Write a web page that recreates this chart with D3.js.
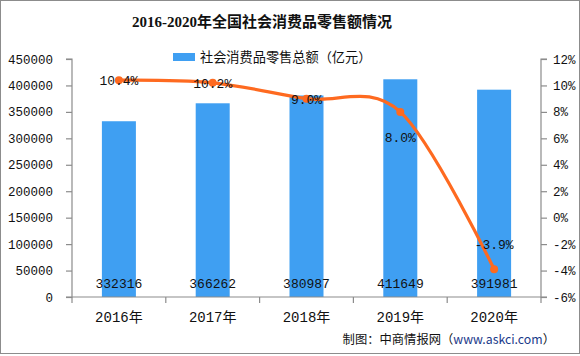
<!DOCTYPE html>
<html><head><meta charset="utf-8">
<script src="https://cdn.jsdelivr.net/npm/d3@7"></script>
<style>body{margin:0;background:#fff}svg{display:block}</style>
</head><body>
<svg id="c" width="580" height="356"></svg>
<script>
const categories = ["2016年","2017年","2018年","2019年","2020年"];
const sales = [332316, 366262, 380987, 411649, 391981];
const growth = [10.4, 10.2, 9.0, 8.0, -3.9];
const leftTicks = [0,50000,100000,150000,200000,250000,300000,350000,400000,450000];
const rightTicks = [-6,-4,-2,0,2,4,6,8,10,12];
const labelOffsets = [0, 0, 0, 25, -25];

const svg = d3.select("#c");
const W = 580, H = 356;
const m = {l:72, r:39, t:59, b:59};
const x0 = m.l, x1 = W - m.r, y0 = H - m.b, y1 = m.t;
const numFont = "'Liberation Mono','Noto Sans CJK SC',monospace";
const cjkFont = "'Noto Sans CJK SC','Liberation Mono',sans-serif";

svg.append("rect").attr("x",0.5).attr("y",0.5).attr("width",W-1).attr("height",H-3)
  .attr("fill","#fff").attr("stroke","#8c8c8c");

const x = d3.scaleBand().domain(categories).range([x0,x1]).paddingInner(0).paddingOuter(0);
const yL = d3.scaleLinear().domain([0,450000]).range([y0,y1]);
const yR = d3.scaleLinear().domain([-6,12]).range([y0,y1]);

// title
svg.append("text").attr("x",262).attr("y",27).attr("text-anchor","middle")
  .attr("font-family","'Liberation Serif','Noto Sans CJK SC',serif").attr("font-weight","bold")
  .attr("font-size",15).attr("fill","#111").text("2016-2020年全国社会消费品零售额情况");

// legend
svg.append("rect").attr("x",173).attr("y",53).attr("width",22).attr("height",8).attr("fill","#3f9ff2");
svg.append("text").attr("x",200).attr("y",62).attr("font-family",cjkFont).attr("font-size",13.2)
  .attr("fill","#111").text("社会消费品零售总额（亿元）");

// bars
const bw = 34;
svg.append("g").selectAll("rect").data(sales).join("rect")
  .attr("x",(d,i)=>x(categories[i])+x.bandwidth()/2-bw/2)
  .attr("y",d=>yL(d)).attr("width",bw).attr("height",d=>y0-yL(d)).attr("fill","#3f9ff2");

// axes
const axisColor = "#8c8c8c";
const gl = svg.append("g").attr("transform",`translate(${x0},0)`)
  .call(d3.axisLeft(yL).tickValues(leftTicks).tickSize(6).tickFormat(d3.format("d")));
const gr = svg.append("g").attr("transform",`translate(${x1},0)`)
  .call(d3.axisRight(yR).tickValues(rightTicks).tickSize(6).tickFormat(d=>d+"%"));
const gx = svg.append("g").attr("transform",`translate(0,${y0})`)
  .call(d3.axisBottom(x).tickSize(6).tickSizeOuter(0).tickFormat(""));
[gl,gr,gx].forEach(g=>{
  g.selectAll("path").attr("stroke",axisColor).attr("stroke-width",1.2);
  g.selectAll("line").attr("stroke",axisColor).attr("stroke-width",1.2);
  g.selectAll("text").attr("font-family",numFont).attr("font-size",12.5).attr("fill","#111");
});
gl.select(".domain").attr("d",`M-6,${y1}H0V${y0}H-6`);
gr.select(".domain").attr("d",`M6,${y1}H0V${y0}H6`);
gl.selectAll("text").attr("x",-19);
gr.selectAll("text").attr("x",12);
// category boundary ticks
gx.selectAll(".tick").remove();
gx.selectAll(".bt").data(d3.range(categories.length+1)).join("line")
  .attr("x1",i=>x0+i*x.bandwidth()).attr("x2",i=>x0+i*x.bandwidth())
  .attr("y1",0).attr("y2",6).attr("stroke",axisColor).attr("stroke-width",1.2);
gx.select(".domain").attr("d",`M${x0},0H${x1}`);
svg.append("g").selectAll("text").data(categories).join("text")
  .attr("x",d=>x(d)+x.bandwidth()/2).attr("y",y0+25).attr("text-anchor","middle")
  .attr("font-family",numFont).attr("font-size",14).attr("fill","#111").text(d=>d);

// bar value labels
svg.append("g").selectAll("text").data(sales).join("text")
  .attr("x",(d,i)=>x(categories[i])+x.bandwidth()/2).attr("y",y0-9).attr("text-anchor","middle")
  .attr("font-family",numFont).attr("font-size",13).attr("fill","#111").text(d=>d);

// line
const pts = growth.map((g,i)=>[x(categories[i])+x.bandwidth()/2, yR(g)]);
svg.append("path").attr("d",d3.line().curve(d3.curveCardinal.tension(0))(pts))
  .attr("fill","none").attr("stroke","#fe6a20").attr("stroke-width",3.2);
svg.append("g").selectAll("circle").data(pts).join("circle")
  .attr("cx",d=>d[0]).attr("cy",d=>d[1]).attr("r",4).attr("fill","#fe6a20");
svg.append("g").selectAll("text").data(growth).join("text")
  .attr("x",(d,i)=>pts[i][0]).attr("y",(d,i)=>pts[i][1]+labelOffsets[i]+5).attr("text-anchor","middle")
  .attr("font-family",numFont).attr("font-size",13).attr("fill","#111").text(d=>d.toFixed(1)+"%");

// footer
svg.append("text").attr("x",555).attr("y",344).attr("text-anchor","end")
  .attr("font-family",cjkFont).attr("font-size",12.3).attr("fill","#111")
  .html('制图：中商情报网（<tspan fill="#1a3a8a">www.askci.com</tspan>）');
</script>
</body></html>
